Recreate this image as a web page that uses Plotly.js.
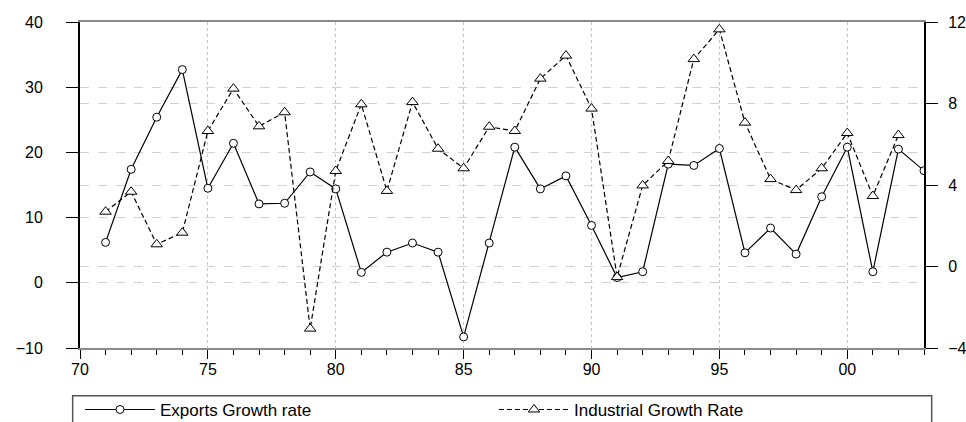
<!DOCTYPE html>
<html>
<head>
<meta charset="utf-8">
<script src="https://cdn.plot.ly/plotly-3.0.1.min.js"></script>
<style>html,body{margin:0;padding:0;background:#fff;}#chart{width:966px;height:422px;}</style>
</head>
<body>
<div id="chart"></div>
<script>
var exportYears = [1971,1972,1973,1974,1975,1976,1977,1978,1979,1980,1981,1982,1983,1984,1985,1986,1987,1988,1989,1990,1991,1992,1993,1994,1995,1996,1997,1998,1999,2000,2001,2002,2003];
var exportsGrowth = [6.2,17.4,25.4,32.7,14.5,21.4,12.1,12.2,17.0,14.4,1.6,4.7,6.1,4.7,-8.3,6.1,20.8,14.4,16.4,8.8,0.8,1.7,18.2,18.0,20.6,4.6,8.4,4.4,13.2,20.8,1.7,20.5,17.2];
var industryYears = [1971,1972,1973,1974,1975,1976,1977,1978,1979,1980,1981,1982,1983,1984,1985,1986,1987,1988,1989,1990,1991,1992,1993,1994,1995,1996,1997,1998,1999,2000,2001,2002];
var industrialGrowth = [2.69,3.67,1.09,1.66,6.65,8.73,6.88,7.57,-3.05,4.69,7.96,3.71,8.07,5.78,4.82,6.86,6.65,9.22,10.35,7.75,-0.52,3.98,5.18,10.18,11.64,7.06,4.29,3.75,4.82,6.55,3.46,6.45];
var xTickVals = [1970,1975,1980,1985,1990,1995,2000];
var xTickText = ['70','75','80','85','90','95','00'];
var seriesNames = ['Exports Growth rate','Industrial Growth Rate'];

var family = 'Liberation Sans, Arial, sans-serif';
var tickFont = {family:family, size:16, color:'#000'};
var legendFont = {family:family, size:17, color:'#000'};

var traces = [
  {x:exportYears, y:exportsGrowth, name:seriesNames[0], type:'scatter', mode:'lines+markers',
   line:{color:'#000', width:1.2},
   marker:{symbol:'circle', size:8, color:'#fff', line:{color:'#000', width:1}}, yaxis:'y'},
  {x:industryYears, y:industrialGrowth, name:seriesNames[1], type:'scatter', mode:'lines+markers',
   line:{color:'#000', width:1.2, dash:'5px,3px'},
   marker:{symbol:'triangle-up', size:10, color:'#fff', line:{color:'#000', width:1}}, yaxis:'y2'}
];

var layout = {
  width:966, height:422,
  margin:{l:80, r:42, t:22, b:74, autoexpand:false},
  paper_bgcolor:'#fff', plot_bgcolor:'#fff',
  font:tickFont,
  showlegend:true,
  legend:{orientation:'h', x:0.0, xanchor:'left', y:-0.19, yanchor:'middle',
    font:legendFont, bgcolor:'rgba(0,0,0,0)', borderwidth:0,
    entrywidth:329, entrywidthmode:'pixels', itemwidth:70, traceorder:'normal'},
  xaxis:{range:[1970,2003], tickvals:xTickVals, ticktext:xTickText,
    ticks:'outside', ticklen:9, tickwidth:1, tickcolor:'#000',
    minor:{dtick:1, tick0:1970, ticks:'outside', ticklen:5, tickwidth:1, tickcolor:'#000', showgrid:false},
    showline:true, linecolor:'#8a8a8a', linewidth:2, mirror:true,
    showgrid:true, gridcolor:'#c4c4c4', griddash:'dot', gridwidth:1,
    zeroline:false, tickfont:tickFont, ticklabelstandoff:-3},
  yaxis:{range:[-10,40], dtick:10, tick0:0, ticks:'outside', ticklen:12, tickwidth:1, tickcolor:'#000',
    showline:true, linecolor:'#000', linewidth:2,
    showgrid:true, gridcolor:'#d2d2d2', griddash:'dash', gridwidth:1,
    zeroline:false, tickfont:tickFont, ticklabelstandoff:20},
  yaxis2:{range:[-4,12], dtick:4, tick0:0, overlaying:'y', side:'right',
    ticks:'outside', ticklen:12, tickwidth:1, tickcolor:'#000',
    showline:true, linecolor:'#000', linewidth:2,
    showgrid:true, gridcolor:'#d2d2d2', griddash:'dash', gridwidth:1,
    zeroline:false, tickfont:tickFont, ticklabelstandoff:7},
  shapes:[
    {type:'rect', xref:'paper', yref:'paper', x0:-0.0087, x1:1.0091, y0:-0.1463, y1:-0.40,
     line:{color:'#555', width:1.5}, fillcolor:'rgba(0,0,0,0)', layer:'below'}
  ]
};

Plotly.newPlot('chart', traces, layout, {displayModeBar:false, staticPlot:true});
</script>
</body>
</html>
